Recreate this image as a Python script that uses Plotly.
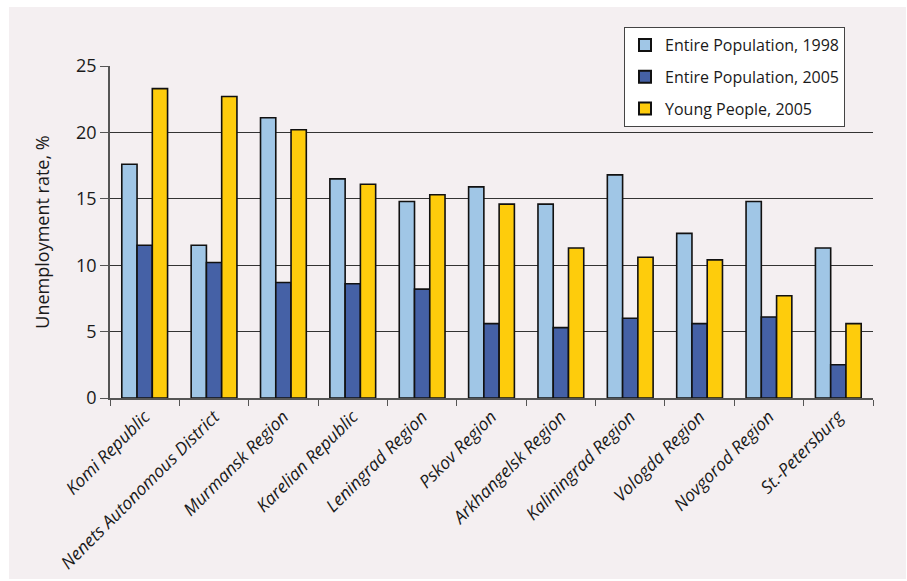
import plotly.graph_objects as go

# Regions of North-West Russia
regions = [
    "Komi Republic", "Nenets Autonomous District", "Murmansk Region",
    "Karelian Republic", "Leningrad Region", "Pskov Region",
    "Arkhangelsk Region", "Kaliningrad Region", "Vologda Region",
    "Novgorod Region", "St.-Petersburg",
]

# Unemployment rate, %
entire_1998 = [17.6, 11.5, 21.1, 16.5, 14.8, 15.9, 14.6, 16.8, 12.4, 14.8, 11.3]
entire_2005 = [11.5, 10.2, 8.7, 8.6, 8.2, 5.6, 5.3, 6.0, 5.6, 6.1, 2.5]
young_2005 = [23.3, 22.7, 20.2, 16.1, 15.3, 14.6, 11.3, 10.6, 10.4, 7.7, 5.6]

y_ticks = [0, 5, 10, 15, 20, 25]

series = [
    ("Entire Population, 1998", entire_1998, "#a0c6e6"),
    ("Entire Population, 2005", entire_2005, "#4561a6"),
    ("Young People, 2005", young_2005, "#fecc0c"),
]

W, H = 907, 581
L, R, T, B = 110, 34, 66, 183
panel_bg = "#f4eff1"
font_family = "Open Sans, Noto Sans, sans-serif"

fig = go.Figure()
for i, (name, vals, color) in enumerate(series):
    fig.add_trace(go.Bar(
        x=regions, y=vals, name=name, legendgroup=f"g{i}",
        marker=dict(color=color, line=dict(color="#111111", width=1.6)),
    ))

# Tinted panel behind the chart, leaving a thin white rim at top and left
pw = W - L - R
ph = H - T - B
fig.add_shape(
    type="rect", xref="paper", yref="paper", layer="below",
    x0=(9 - L) / pw, x1=(W - 1 - L) / pw,
    y0=(H - B - (H - 2)) / ph, y1=(H - B - 7) / ph,
    fillcolor=panel_bg, line=dict(width=0),
)

fig.update_layout(
    width=W, height=H,
    margin=dict(l=L, r=R, t=T, b=B, autoexpand=False),
    paper_bgcolor="white",
    plot_bgcolor=panel_bg,
    barmode="group",
    bargap=0.34,
    bargroupgap=0,
    font=dict(family=font_family, color="#1a1a1a", size=16),
    showlegend=True,
    legend=dict(
        x=(624 - L) / pw, y=(H - B - 27) / ph,
        xanchor="left", yanchor="top",
        bgcolor="white", bordercolor="#444444", borderwidth=1,
        font=dict(size=16, family=font_family, color="#1a1a1a"),
        itemsizing="constant",
        tracegroupgap=8,
    ),
    xaxis=dict(
        type="category",
        automargin=False,
        tickangle=-45,
        tickfont=dict(size=17.5, family=font_family, style="italic"),
        showline=True, linecolor="#555555", linewidth=1.5,
        ticks="outside", tickson="boundaries", ticklen=6,
        tickcolor="#555555", tickwidth=1.2,
        showgrid=False,
    ),
    yaxis=dict(
        automargin=False,
        range=[0, 25],
        tickvals=y_ticks,
        ticktext=[str(v) for v in y_ticks],
        tickfont=dict(size=18, family=font_family),
        showline=True, linecolor="#555555", linewidth=1.5,
        ticks="outside", ticklen=8, tickcolor="#555555", tickwidth=1.2,
        showgrid=True, gridcolor="#333333", gridwidth=1,
        zeroline=False,
        title=dict(text="Unemployment rate, %",
                   font=dict(size=18, family=font_family), standoff=22),
    ),
)

fig.write_html("out.html")
